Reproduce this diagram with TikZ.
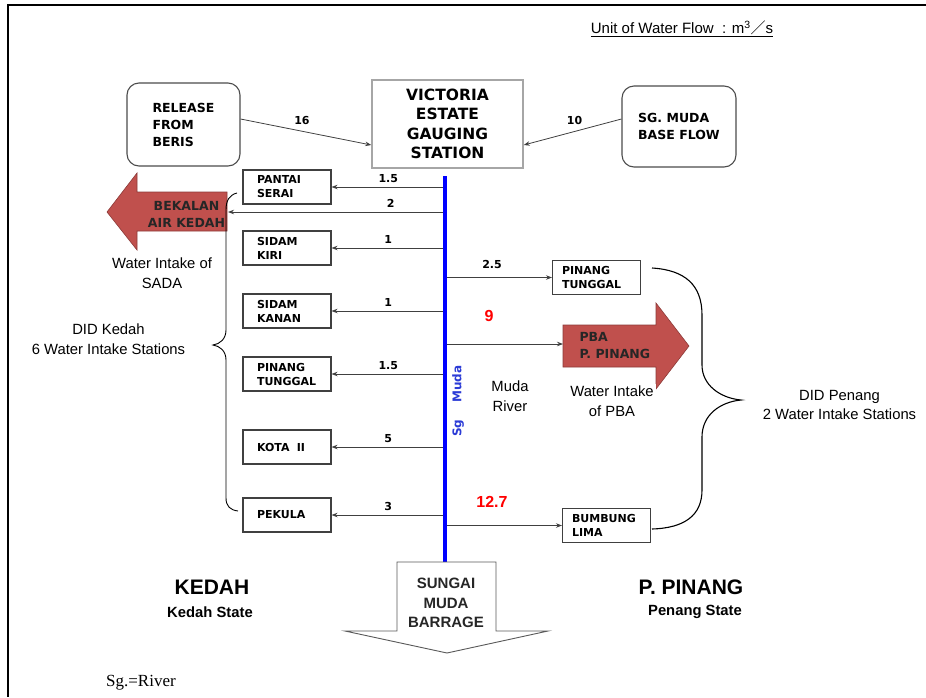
\documentclass[tikz,border=0pt]{standalone}
\usepackage{fontspec}
\setmainfont{Liberation Sans}
\newfontfamily\boxfnt{DejaVu Sans}
\newfontfamily\timesfnt{Liberation Serif}
\newfontfamily\cjkfnt{Noto Sans CJK SC}
\usetikzlibrary{arrows.meta}
\definecolor{intakered}{HTML}{C0504D}
\definecolor{intakeedge}{HTML}{8C3A38}
\definecolor{riverblue}{HTML}{0000FF}
\definecolor{labelblue}{HTML}{2B3BD6}

\begin{document}
\begin{tikzpicture}[x=1pt,y=-1pt,
  source/.style={draw=black!70,line width=1.1pt,rounded corners=12pt,align=left,font=\boxfnt\bfseries\fontsize{12.5}{17}\selectfont},
  gauge/.style={draw=black!35,line width=1.5pt,align=center,font=\boxfnt\bfseries\fontsize{15.5}{19.5}\selectfont},
  intake/.style={draw=black!75,line width=1.1pt,minimum width=88pt,minimum height=34pt,inner xsep=0pt,text width=60pt,align=left,font=\boxfnt\bfseries\fontsize{11}{14}\selectfont},
  flow/.style={draw=black!75,line width=0.8pt,-{Stealth[length=6pt,width=4.5pt]}},
  qty/.style={font=\boxfnt\bfseries\fontsize{11}{12}\selectfont,inner sep=1.5pt},
  bigarrow/.style={fill=intakered,draw=intakeedge,line width=0.6pt},
  arrowtext/.style={font=\boxfnt\bfseries\fontsize{12.5}{17}\selectfont,text=black!85},
  note/.style={align=center,font=\fontsize{14.8}{19.5}\selectfont},
  redqty/.style={text=red,font=\bfseries\fontsize{16}{18}\selectfont},
  statename/.style={font=\bfseries\fontsize{21}{24}\selectfont},
  statenote/.style={font=\bfseries\fontsize{14.8}{17}\selectfont},
  brace/.style={draw=black,line width=0.9pt}]
\useasboundingbox (0,0) rectangle (926,697);
\draw[line width=1.6pt] (926,5) -- (8,5) -- (8,697);

\node[font=\fontsize{15}{18}\selectfont] (unit) at (682,29) {\underline{Unit of Water Flow\ \ : m\textsuperscript{3}{\cjkfnt ／}s}};

% sources and gauging station
\node[source,minimum width=113pt,minimum height=83pt] (beris) at (183.5,124.5) {RELEASE\\FROM\\BERIS};
\node[gauge,minimum width=151pt,minimum height=88pt] (vic) at (447.5,124) {VICTORIA\\ESTATE\\GAUGING\\STATION};
\node[source,minimum width=114pt,minimum height=81pt] (base) at (679,126.5) {SG. MUDA\\BASE FLOW};
\draw[flow] ([yshift=5.5pt]beris.east) -- node[qty,above=5pt,pos=0.47]{16} ([yshift=-21pt]vic.west);
\draw[flow] ([yshift=7.5pt]base.west) -- node[qty,above=5pt,pos=0.48]{10} ([yshift=-21pt]vic.east);

\coordinate (rt) at (445,176);
\coordinate (rb) at (445,562);

% Kedah side
\node[intake] (pantai) at (287,187) {PANTAI\\SERAI};
\node[intake] (kiri) at (287,248) {SIDAM\\KIRI};
\node[intake] (kanan) at (287,311) {SIDAM\\KANAN};
\node[intake] (pinangk) at (287,374) {PINANG\\TUNGGAL};
\node[intake] (kota) at (287,447) {KOTA\ \ II};
\node[intake] (pekula) at (287,515) {PEKULA};
\draw[flow] (pantai.east -| rt) -- node[qty,above=2.5pt]{1.5} (pantai.east);
\draw[flow] (kiri.east -| rt) -- node[qty,above=2.5pt]{1} (kiri.east);
\draw[flow] (kanan.east -| rt) -- node[qty,above=2.5pt]{1} (kanan.east);
\draw[flow] (pinangk.east -| rt) -- node[qty,above=2.5pt]{1.5} (pinangk.east);
\draw[flow] (kota.east -| rt) -- node[qty,above=2.5pt]{5} (kota.east);
\draw[flow] (pekula.east -| rt) -- node[qty,above=2.5pt]{3} (pekula.east);

\draw[bigarrow] (227,192) -- (137,192) -- (137,173) -- (107,212) -- (137,250) -- (137,231) -- (227,231) -- cycle;
\node[arrowtext,align=center] (sada) at (186.5,214) {BEKALAN\\AIR KEDAH};
\coordinate (sadatail) at (228,212);
\draw[flow] (sadatail -| rt) -- node[qty,above=2.5pt,pos=0.25]{2} (sadatail);
\node[note] (sadanote) at (162,273) {Water Intake of\\SADA};
\draw[brace] (237,193) .. controls (229,195) and (226,201) .. (226,210) -- (226,330) .. controls (226,339) and (220,344) .. (213,345) .. controls (220,346) and (226,351) .. (226,360) -- (226,498) .. controls (226,506) and (230,510) .. (238,511);
\node[note] (kedahnote) at (108.5,339) {DID Kedah\\6 Water Intake Stations};

% Penang side
\node[intake,text width=69pt] (pinangp) at (596.5,277.5) {PINANG\\TUNGGAL};
\draw[flow] (pinangp.west -| rt) -- node[qty,above=7pt,pos=0.44]{2.5} (pinangp.west);
\draw[bigarrow] (563,325) -- (656,325) -- (656,303) -- (689,346) -- (656,389) -- (656,367) -- (563,367) -- cycle;
\node[arrowtext,anchor=west,align=left] (pba) at (576,346) {PBA\\P. PINANG};
\coordinate (pbatail) at (563,344);
\draw[flow] (pbatail -| rt) -- (pbatail);
\node[redqty] (q9) at (489,316) {9};
\node[note,fill=white,inner sep=2pt] (pbanote) at (612,401) {Water Intake\\of PBA};
\node[intake,text width=69pt] (bumbung) at (606.5,525.5) {BUMBUNG\\LIMA};
\draw[flow] (bumbung.west -| rt) -- (bumbung.west);
\node[redqty] (q127) at (492,502) {12.7};
\draw[brace,line width=1.1pt] (652,268) .. controls (685,270) and (702,285) .. (702,315) -- (702,365) .. controls (702,385) and (720,398) .. (741,400) .. controls (720,402) and (702,415) .. (702,437) -- (702,490) .. controls (702,515) and (685,528) .. (652,529);
\node[note] (pngnote) at (839.5,405) {DID Penang\\2 Water Intake Stations};

% river
\draw[riverblue,line width=4pt] (rt) -- (rb);
\node[rotate=90,text=labelblue,font=\boxfnt\bfseries\fontsize{12}{14}\selectfont] (sgmuda) at (458,401) {Sg\hspace{17pt}Muda};
\node[note] (munote) at (510,396) {Muda\\River};

% barrage and states
\draw[draw=black!65,line width=0.9pt,fill=white] (397,562) -- (496,562) -- (496,631) -- (548,631) -- (447,653) -- (345,631) -- (397,631) -- cycle;
\node[font=\bfseries\fontsize{15}{19.5}\selectfont,align=center,text=black!85] (barrage) at (446,603) {SUNGAI\\MUDA\\BARRAGE};
\node[statename] (kedah) at (212,587) {KEDAH};
\node[statenote] (kedahst) at (210,612) {Kedah State};
\node[statename] (penang) at (691,587) {P. PINANG};
\node[statenote] (penangst) at (695,612) {Penang State};
\node[font=\timesfnt\fontsize{17}{20}\selectfont,anchor=west,inner xsep=0pt] (sgnote) at (106,683) {Sg.=River};
\end{tikzpicture}
\end{document}
